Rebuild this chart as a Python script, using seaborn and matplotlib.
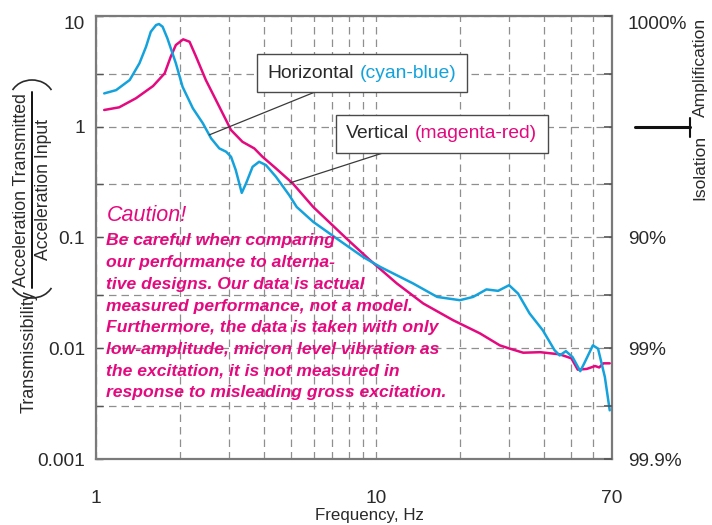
import matplotlib
matplotlib.use("Agg")
import matplotlib.pyplot as plt
import matplotlib.transforms as mtransforms
import pandas as pd
import seaborn as sns
from matplotlib.ticker import FixedLocator, FixedFormatter, NullFormatter
from matplotlib.offsetbox import TextArea, HPacker, AnnotationBbox
from matplotlib.lines import Line2D
from matplotlib.patches import Arc

# Horizontal direction (cyan-blue) transmissibility vs frequency
horiz_freq = [1.07, 1.18, 1.32, 1.43, 1.51, 1.57, 1.64, 1.68, 1.73, 1.80, 1.93,
              2.04, 2.22, 2.41, 2.58, 2.76, 2.92, 3.04, 3.16, 3.32, 3.44, 3.63,
              3.83, 4.05, 4.40, 4.91, 5.22, 5.98, 7.25, 9.0, 10.4, 13.6, 16.6,
              20.0, 22.3, 24.9, 27.4, 30.0, 32.3, 35.5, 39.6, 43.6, 45.5, 47.9,
              50.6, 53.9, 55.7, 59.8, 62.4, 66.0, 68.7]
horiz_trans = [1.99, 2.13, 2.63, 3.72, 5.25, 7.17, 8.24, 8.41, 7.96, 6.25, 3.72,
               2.28, 1.46, 1.07, 0.782, 0.635, 0.592, 0.533, 0.405, 0.252, 0.307, 0.433,
               0.481, 0.449, 0.352, 0.240, 0.188, 0.138, 0.0977, 0.0667, 0.054, 0.0384, 0.029,
               0.0271, 0.029, 0.0339, 0.0329, 0.037, 0.0311, 0.0206, 0.0145, 0.0096, 0.0086, 0.0094,
               0.0083, 0.0062, 0.0073, 0.0106, 0.0099, 0.0055, 0.00275]

# Vertical direction (magenta-red) transmissibility vs frequency
vert_freq = [1.07, 1.21, 1.39, 1.60, 1.76, 1.85, 1.93, 2.05, 2.16, 2.28, 2.47,
             2.76, 3.04, 3.34, 3.68, 3.94, 4.40, 5.05, 5.98, 7.86, 9.55, 11.9,
             14.8, 18.9, 23.6, 27.8, 30.2, 33.7, 38.8, 45.5, 50.1, 52.8, 56.9,
             60.9, 63.0, 65.2, 68.7]
vert_trans = [1.41, 1.49, 1.80, 2.32, 3.02, 4.26, 5.44, 6.12, 5.82, 4.26, 2.63,
              1.51, 0.929, 0.728, 0.635, 0.533, 0.419, 0.307, 0.188, 0.0977, 0.0622, 0.0384,
              0.0253, 0.0179, 0.0136, 0.0106, 0.0099, 0.0091, 0.0092, 0.0088, 0.0081, 0.0064, 0.0065,
              0.0069, 0.0067, 0.0073, 0.0073]

freq_ticks = [1, 10, 70]
freq_tick_labels = ["1", "10", "70"]
freq_minor = [2, 3, 4, 5, 6, 7, 8, 9, 20, 30, 40, 50, 60]
trans_ticks = [0.001, 0.01, 0.1, 1, 10]
trans_tick_labels = ["0.001", "0.01", "0.1", "1", "10"]
trans_minor = [0.003, 0.03, 0.3, 3]
pct_ticks = [0.001, 0.01, 0.1, 10]
pct_tick_labels = ["99.9%", "99%", "90%", "1000%"]
pct_minor = [0.003, 0.03, 0.3, 1, 3]

caution_title = "Caution!"
caution_lines = [
    "Be careful when comparing",
    "our performance to alterna-",
    "tive designs. Our data is actual",
    "measured performance, not a model.",
    "Furthermore, the data is taken with only",
    "low-amplitude, micron level vibration as",
    "the excitation, it is not measured in",
    "response to misleading gross excitation.",
]

sns.set_theme(style="white")
plt.rcParams["font.family"] = ["Liberation Sans", "DejaVu Sans"]

CYAN = "#14A2DC"
MAGENTA = "#E4097F"
GRID = "#8f8f8f"
SPINE = "#7a7a7a"
TEXT = "#2a2a2a"
TICK_FS = 13.8
W, H = 712, 525


def px(x, y):
    """Figure-pixel position (origin top-left) to figure fraction."""
    return x / W, 1 - y / H


fig = plt.figure(figsize=(W / 100, H / 100), dpi=100)
pix = mtransforms.Affine2D().scale(1 / W, -1 / H).translate(0, 1) + fig.transFigure
ax = fig.add_axes([96 / W, 1 - 459 / H, (612 - 96) / W, (459 - 15.7) / H])

df_h = pd.DataFrame({"Frequency": horiz_freq, "Transmissibility": horiz_trans})
df_v = pd.DataFrame({"Frequency": vert_freq, "Transmissibility": vert_trans})
sns.lineplot(data=df_v, x="Frequency", y="Transmissibility", color=MAGENTA,
             lw=1.8, sort=False, ax=ax, zorder=3)
sns.lineplot(data=df_h, x="Frequency", y="Transmissibility", color=CYAN,
             lw=1.8, sort=False, ax=ax, zorder=3)

ax.set_xscale("log")
ax.set_yscale("log")
ax.set_xlim(1, 70)
ax.set_ylim(0.001, 10)
ax.set_xlabel("")
ax.set_ylabel("")

ax.xaxis.set_major_locator(FixedLocator(freq_ticks))
ax.xaxis.set_major_formatter(FixedFormatter(freq_tick_labels))
ax.xaxis.set_minor_locator(FixedLocator(freq_minor))
ax.xaxis.set_minor_formatter(NullFormatter())
ax.yaxis.set_major_locator(FixedLocator(trans_ticks))
ax.yaxis.set_major_formatter(FixedFormatter(trans_tick_labels))
ax.yaxis.set_minor_locator(FixedLocator(trans_minor))
ax.yaxis.set_minor_formatter(NullFormatter())

ax.set_axisbelow(True)
ax.grid(True, which="both", axis="both", color=GRID, lw=0.9, ls=(0, (6, 4)))

ax.tick_params(axis="x", which="both", length=0, pad=22, labelsize=TICK_FS,
               labelcolor=TEXT)
ax.tick_params(axis="y", which="both", direction="in", length=5, width=1,
               color="#555555", pad=8, labelsize=TICK_FS, labelcolor=TEXT)
for s in ax.spines.values():
    s.set_color(SPINE)
    s.set_linewidth(1.6)

# percentage scale on the right
ax2 = ax.twinx()
ax2.set_yscale("log")
ax2.set_ylim(0.001, 10)
ax2.yaxis.set_major_locator(FixedLocator(pct_ticks))
ax2.yaxis.set_major_formatter(FixedFormatter(pct_tick_labels))
ax2.yaxis.set_minor_locator(FixedLocator(pct_minor))
ax2.yaxis.set_minor_formatter(NullFormatter())
ax2.tick_params(axis="y", which="both", direction="in", length=6, width=1.2,
                color="#555555", pad=11.5, labelsize=TICK_FS, labelcolor=TEXT)
for s in ax2.spines.values():
    s.set_visible(False)

# keep the top labels inside the figure
ax.yaxis.get_major_ticks()[-1].label1.set_verticalalignment("top")
ax2.yaxis.get_major_ticks()[-1].label2.set_verticalalignment("top")

# caution note
fig.text(*px(107, 221), caution_title, color=MAGENTA, fontsize=15.5,
         style="italic", va="baseline", ha="left")
for i, line in enumerate(caution_lines):
    fig.text(*px(106, 245.5 + 21.7 * i), line, color=MAGENTA, fontsize=12.6,
             style="italic", weight="bold", va="baseline", ha="left")


# labelled call-outs
def callout(first, second, color2, target, left_px, mid_px):
    ta1 = TextArea(first, textprops=dict(color=TEXT, fontsize=13.9))
    ta2 = TextArea(second, textprops=dict(color=color2, fontsize=13.9))
    pack = HPacker(children=[ta1, ta2], align="baseline", pad=7.5, sep=4)
    ab = AnnotationBbox(pack, target, xycoords="data",
                        xybox=(left_px, H - mid_px), boxcoords="figure pixels",
                        box_alignment=(0, 0.5), pad=0.0, fontsize=13.9,
                        bboxprops=dict(edgecolor="#4a4a4a", lw=1.0, facecolor="white"),
                        arrowprops=dict(arrowstyle="-", color="#3a3a3a", lw=0.9,
                                        patchA=None, shrinkA=0, shrinkB=0),
                        zorder=6)
    ax.add_artist(ab)


callout("Horizontal", "(cyan-blue)", CYAN, (2.54, 0.84), 257, 73)
callout("Vertical", "(magenta-red)", MAGENTA, (4.94, 0.31), 336, 134)

# axis titles
fig.text(*px(369, 520), "Frequency, Hz", fontsize=12.2, color=TEXT,
         ha="center", va="baseline")
fig.text(*px(29, 352), "Transmissibility", fontsize=13, color=TEXT,
         rotation=90, ha="center", va="center")
fig.text(*px(22, 190), "Acceleration Transmitted", fontsize=12.7, color=TEXT,
         rotation=90, ha="center", va="center")
fig.text(*px(44, 190), "Acceleration Input", fontsize=12.7, color=TEXT,
         rotation=90, ha="center", va="center")
fig.add_artist(Line2D([32, 32], [288, 92], transform=pix, color="#111111", lw=1.4))
# bracket arcs around the fraction
fig.add_artist(Arc((32, 279), 44, 38, theta1=24.6, theta2=155.4, transform=pix,
                   color=TEXT, lw=1.2))
fig.add_artist(Arc((32, 99), 44, 38, theta1=204.6, theta2=335.4, transform=pix,
                   color=TEXT, lw=1.2))

# amplification / isolation marker
fig.text(*px(700, 67), "Amplification", fontsize=12.6, color=TEXT,
         rotation=90, ha="center", va="center")
fig.text(*px(700, 167), "Isolation", fontsize=12.6, color=TEXT,
         rotation=90, ha="center", va="center")
fig.add_artist(Line2D([635, 690], [127, 127], transform=pix, color="#111111", lw=2.2))
fig.add_artist(Line2D([690, 690], [118, 137], transform=pix, color="#111111", lw=1.5))

fig.savefig("out.png", dpi=100)
